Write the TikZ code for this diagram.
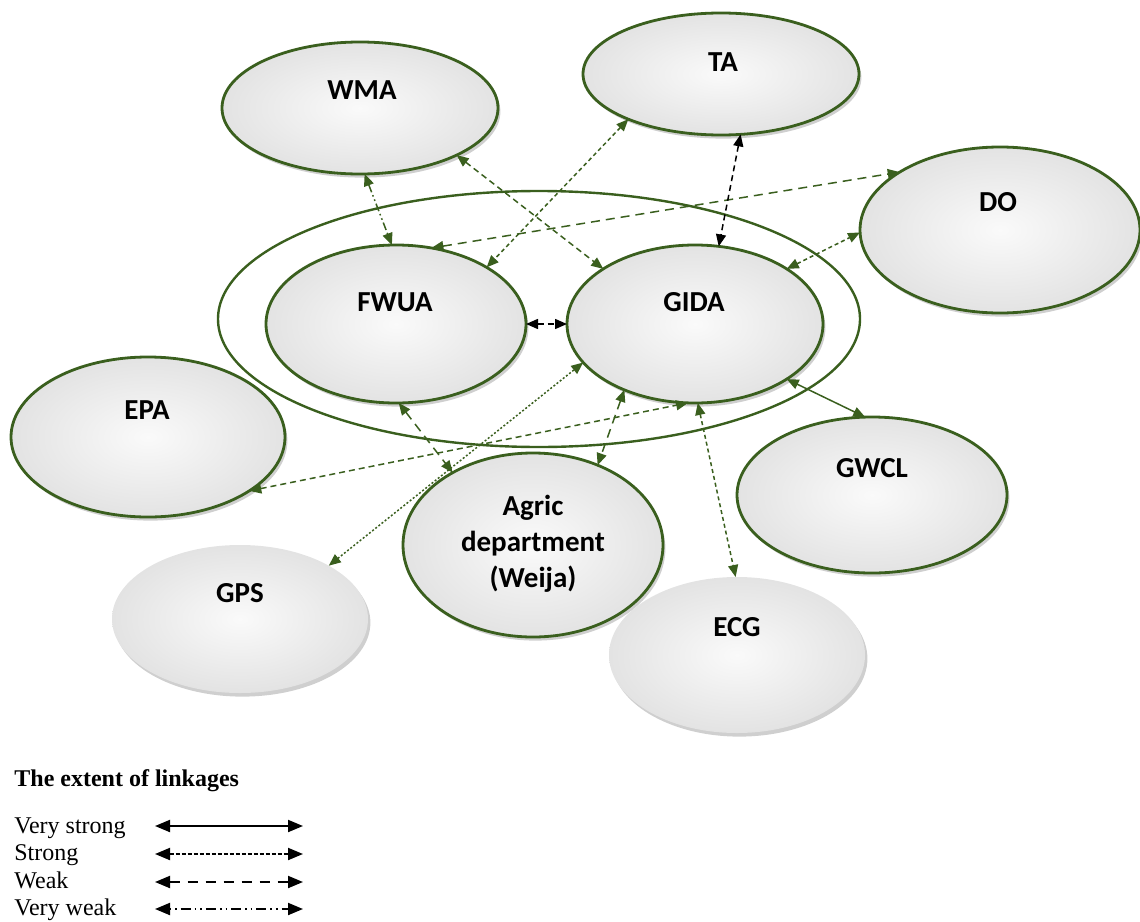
\documentclass[tikz,border=0pt]{standalone}
\usepackage{fontspec}
\setmainfont{Liberation Serif}
\newfontfamily\lblfont{Carlito}
\usetikzlibrary{arrows.meta,shapes.geometric,shadows}
\definecolor{dkgreen}{HTML}{3A5F1E}
\begin{document}
\begin{tikzpicture}[x=0.5pt,y=-0.5pt,
  ellbase/.style={ellipse, inner sep=0pt, outer sep=0pt, inner color=gray!4, outer color=gray!22,
    drop shadow={shadow xshift=1.2pt, shadow yshift=-1.8pt, fill=gray!75, opacity=0.5}},
  ell/.style 2 args={ellbase, draw=dkgreen, line width=1.4pt, minimum width=#1pt, minimum height=#2pt},
  ellnb/.style 2 args={ellbase, minimum width=#1pt, minimum height=#2pt},
  lbl/.style={font=\lblfont\bfseries\fontsize{14.5}{18}\selectfont, align=center, inner sep=0pt},
  tipg/.style={{Triangle[length=6pt,width=5pt]}-{Triangle[length=6pt,width=5pt]}},
  conn/.style={draw=dkgreen, line width=0.75pt, tipg},
  connk/.style={draw=black, line width=0.75pt, tipg},
  lkfine/.style={dash pattern=on 2pt off 1.5pt},
  lkmed/.style={dash pattern=on 3pt off 2pt},
  lklong/.style={dash pattern=on 4.5pt off 3pt},
  lkvweak/.style={dash pattern=on 4pt off 1.5pt on 0.8pt off 1.5pt on 0.8pt off 1.5pt},
  lkdot/.style={dash pattern=on 1pt off 1pt},
  leg/.style={font=\fontsize{12}{14}\selectfont, inner sep=0pt},
  legarrow/.style={draw=black, line width=1pt, {Triangle[length=7.5pt,width=6pt]}-{Triangle[length=7.5pt,width=6pt]}}
]
\useasboundingbox (0,0) rectangle (1140,921);

% outer ellipse
\node[ellipse, draw=dkgreen, line width=1.2pt, minimum width=321pt, minimum height=128pt, inner sep=0pt, outer sep=0pt] (outer) at (539,319) {};

% ellipses
\node[ell={138}{66}] (wma) at (360,108) {};
\node[ell={138}{61}] (ta) at (721,74) {};
\node[ell={140}{83}] (do) at (1000,230) {};
\node[ell={130}{79}] (fwua) at (396,324) {};
\node[ell={128}{79}] (gida) at (695,324) {};
\node[ell={137}{80}] (epa) at (148,437) {};
\node[ell={135}{78}] (gwcl) at (872,495) {};
\node[ell={130}{92}] (agric) at (533,545) {};
\node[ellnb={128}{74}] (gps) at (240,619) {};
\node[ellnb={128}{78}] (ecg) at (737,655) {};

% connectors
\draw[conn, lkvweak] (wma.274) -- (fwua.93);
\draw[conn, lkmed] (wma.-26) -- (gida.149);
\draw[conn, lkfine] (ta.206) -- (fwua.32);
\draw[conn, lklong] (fwua.65) -- (do.150);
\draw[connk, lkmed] (ta.-72) -- (gida.73);
\draw[connk, lkmed] (fwua.east) -- (gida.west);
\draw[conn, lkfine] (gida.31) -- (do.181);
\draw[conn] (gida.-31) -- (gwcl.95);
\draw[conn, lkfine] (gida.-88) -- (ecg.91);
\draw[conn, lklong] (gida.-137) -- (agric.51);
\draw[conn, lklong] (fwua.-88) -- (agric.138);
\draw[conn, lkmed] (epa.-28) -- (gida.-95);
\draw[conn, lkdot] (gps.31) -- (gida.-161);

% labels
\node[lbl] (wmaT) at (362,90) {WMA};
\node[lbl] (taT) at (723,62) {TA};
\node[lbl] (doT) at (998,202) {DO};
\node[lbl] (fwuaT) at (395,302) {FWUA};
\node[lbl] (gidaT) at (694,302) {GIDA};
\node[lbl] (epaT) at (147,410) {EPA};
\node[lbl] (gwclT) at (872,468) {GWCL};
\node[lbl] (agricT) at (533,544) {Agric\\department\\(Weija)};
\node[lbl] (gpsT) at (240,593) {GPS};
\node[lbl] (ecgT) at (737,627) {ECG};

% legend
\node[leg, anchor=base west] (legT) at (14,786) {\bfseries The extent of linkages};
\node[leg, anchor=base west] (leg1) at (14,833) {Very strong};
\node[leg, anchor=base west] (leg2) at (14,860) {Strong};
\node[leg, anchor=base west] (leg3) at (14,888) {Weak};
\node[leg, anchor=base west] (leg4) at (14,915) {Very weak};
\coordinate (a1s) at (155,826); \coordinate (a1e) at (303,826);
\coordinate (a2s) at (155,854); \coordinate (a2e) at (303,854);
\coordinate (a3s) at (155,882); \coordinate (a3e) at (303,882);
\coordinate (a4s) at (155,909); \coordinate (a4e) at (303,909);
\draw[legarrow] (a1s) -- (a1e);
\draw[legarrow, dash pattern=on 2pt off 1pt] (a2s) -- (a2e);
\draw[legarrow, dash pattern=on 5pt off 4pt] (a3s) -- (a3e);
\draw[legarrow, dash pattern=on 0.8pt off 2pt on 0.8pt off 2pt on 5pt off 2pt] (a4s) -- (a4e);
\end{tikzpicture}
\end{document}
